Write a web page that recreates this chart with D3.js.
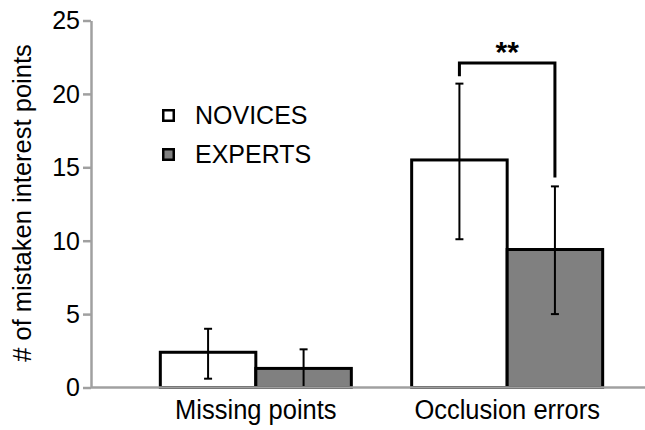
<!DOCTYPE html>
<html>
<head>
<meta charset="utf-8">
<script src="https://cdn.jsdelivr.net/npm/d3@7"></script>
<style>
  html, body { margin: 0; padding: 0; background: #fff; }
  svg { display: block; font-family: "Liberation Sans", Arial, Helvetica, sans-serif; }
</style>
</head>
<body>
<svg id="chart" width="645" height="430"></svg>
<script>
// Mistaken interest points per category, novices vs experts (mean with error range)
const categories = ["Missing points", "Occlusion errors"];
const groups = ["NOVICES", "EXPERTS"];
const noviceMeans = [2.4, 15.5];
const expertMeans = [1.3, 9.4];
const noviceLow = [0.6, 10.1];
const noviceHigh = [4.0, 20.7];
const expertLow = [0.0, 5.0];
const expertHigh = [2.6, 13.7];
const yTicks = [0, 5, 10, 15, 20, 25];
// Significance bracket over "Occlusion errors": bar level and the two leg ends
const sigCategory = "Occlusion errors";
const sigLevel = [22.1];
const sigLegEnds = [21.2, 14.3];
const sigLabel = "**";

const svg = d3.select("#chart");
const W = 645, H = 430;
const axisX = 91, y0 = 387.5, yTop = 20.5;
const groupFill = { NOVICES: "#ffffff", EXPERTS: "#808080" };
const axisColor = "#a0a0a0";
const textStretch = "scale(1,1.06)";

const y = d3.scaleLinear().domain([0, 25]).range([y0, yTop]);
const x = d3.scaleBand().domain(categories).range([100, 663])
  .paddingInner(0.24).paddingOuter(0.24);
const xg = d3.scaleBand().domain(groups).range([0, x.bandwidth()]);

const rows = categories.map((c, i) => ({
  cat: c,
  vals: [
    { g: "NOVICES", v: noviceMeans[i], lo: noviceLow[i], hi: noviceHigh[i] },
    { g: "EXPERTS", v: expertMeans[i], lo: expertLow[i], hi: expertHigh[i] }
  ]
}));

// Y axis
const yAxis = svg.append("g")
  .attr("transform", `translate(${axisX},0)`)
  .call(d3.axisLeft(y).tickValues(yTicks).tickSize(8).tickPadding(3).tickSizeOuter(0));
yAxis.select(".domain").attr("stroke", axisColor).attr("stroke-width", 2.5);
yAxis.selectAll(".tick line").attr("stroke", axisColor).attr("stroke-width", 2.5);
yAxis.selectAll(".tick text").attr("font-size", 25).attr("fill", "#000")
  .attr("font-family", "Liberation Sans, Arial, sans-serif")
  .attr("transform", textStretch);

// Bars
const cat = svg.append("g").selectAll("g").data(rows).join("g")
  .attr("transform", d => `translate(${x(d.cat)},0)`);

cat.selectAll("rect").data(d => d.vals).join("rect")
  .attr("x", d => xg(d.g))
  .attr("y", d => y(d.v))
  .attr("width", xg.bandwidth())
  .attr("height", d => y(0) - y(d.v))
  .attr("fill", d => groupFill[d.g])
  .attr("stroke", "#000")
  .attr("stroke-width", 3);

// Error bars
const eb = cat.selectAll("g.err").data(d => d.vals).join("g").attr("class", "err")
  .attr("transform", d => `translate(${xg(d.g) + xg.bandwidth() / 2},0)`)
  .attr("stroke", "#000").attr("stroke-width", 2);
eb.append("line").attr("x1", 0).attr("x2", 0)
  .attr("y1", d => y(d.lo)).attr("y2", d => y(d.hi));
eb.append("line").attr("x1", -4).attr("x2", 4)
  .attr("y1", d => y(d.lo)).attr("y2", d => y(d.lo));
eb.append("line").attr("x1", -4).attr("x2", 4)
  .attr("y1", d => y(d.hi)).attr("y2", d => y(d.hi));

// X axis baseline
svg.append("line")
  .attr("x1", axisX).attr("x2", W)
  .attr("y1", y(0)).attr("y2", y(0))
  .attr("stroke", axisColor).attr("stroke-width", 2.5);

// Category labels
svg.append("g").selectAll("text").data(categories).join("text")
  .attr("transform", d => `translate(${x(d) + x.bandwidth() / 2},419) ${textStretch}`)
  .attr("text-anchor", "middle")
  .attr("font-size", 25.5)
  .text(d => d);

// Y axis title
svg.append("text")
  .attr("transform", `translate(31,${(y0 + yTop) / 2 - 1}) rotate(-90)`)
  .attr("text-anchor", "middle")
  .attr("font-size", 25.5)
  .text("# of mistaken interest points");

// Significance bracket
const sx1 = x(sigCategory) + xg("NOVICES") + xg.bandwidth() / 2;
const sx2 = x(sigCategory) + xg("EXPERTS") + xg.bandwidth() / 2;
svg.append("path")
  .attr("d", `M${sx1},${y(sigLegEnds[0])} V${y(sigLevel[0])} H${sx2} V${y(sigLegEnds[1])}`)
  .attr("fill", "none").attr("stroke", "#000").attr("stroke-width", 3);
svg.append("text")
  .attr("x", (sx1 + sx2) / 2)
  .attr("y", y(sigLevel[0]) - 1)
  .attr("text-anchor", "middle")
  .attr("font-size", 30)
  .attr("font-weight", "bold")
  .text(sigLabel);

// Legend
const legend = svg.append("g").selectAll("g").data(groups).join("g")
  .attr("transform", (d, i) => `translate(162,${109 + i * 39})`);
legend.append("rect")
  .attr("x", 1.25).attr("y", 1.25).attr("width", 10.5).attr("height", 10.5)
  .attr("fill", d => groupFill[d]).attr("stroke", "#000").attr("stroke-width", 2.5);
legend.append("text")
  .attr("transform", `translate(33,14.5) ${textStretch}`)
  .attr("font-size", 25)
  .text(d => d);
</script>
</body>
</html>
